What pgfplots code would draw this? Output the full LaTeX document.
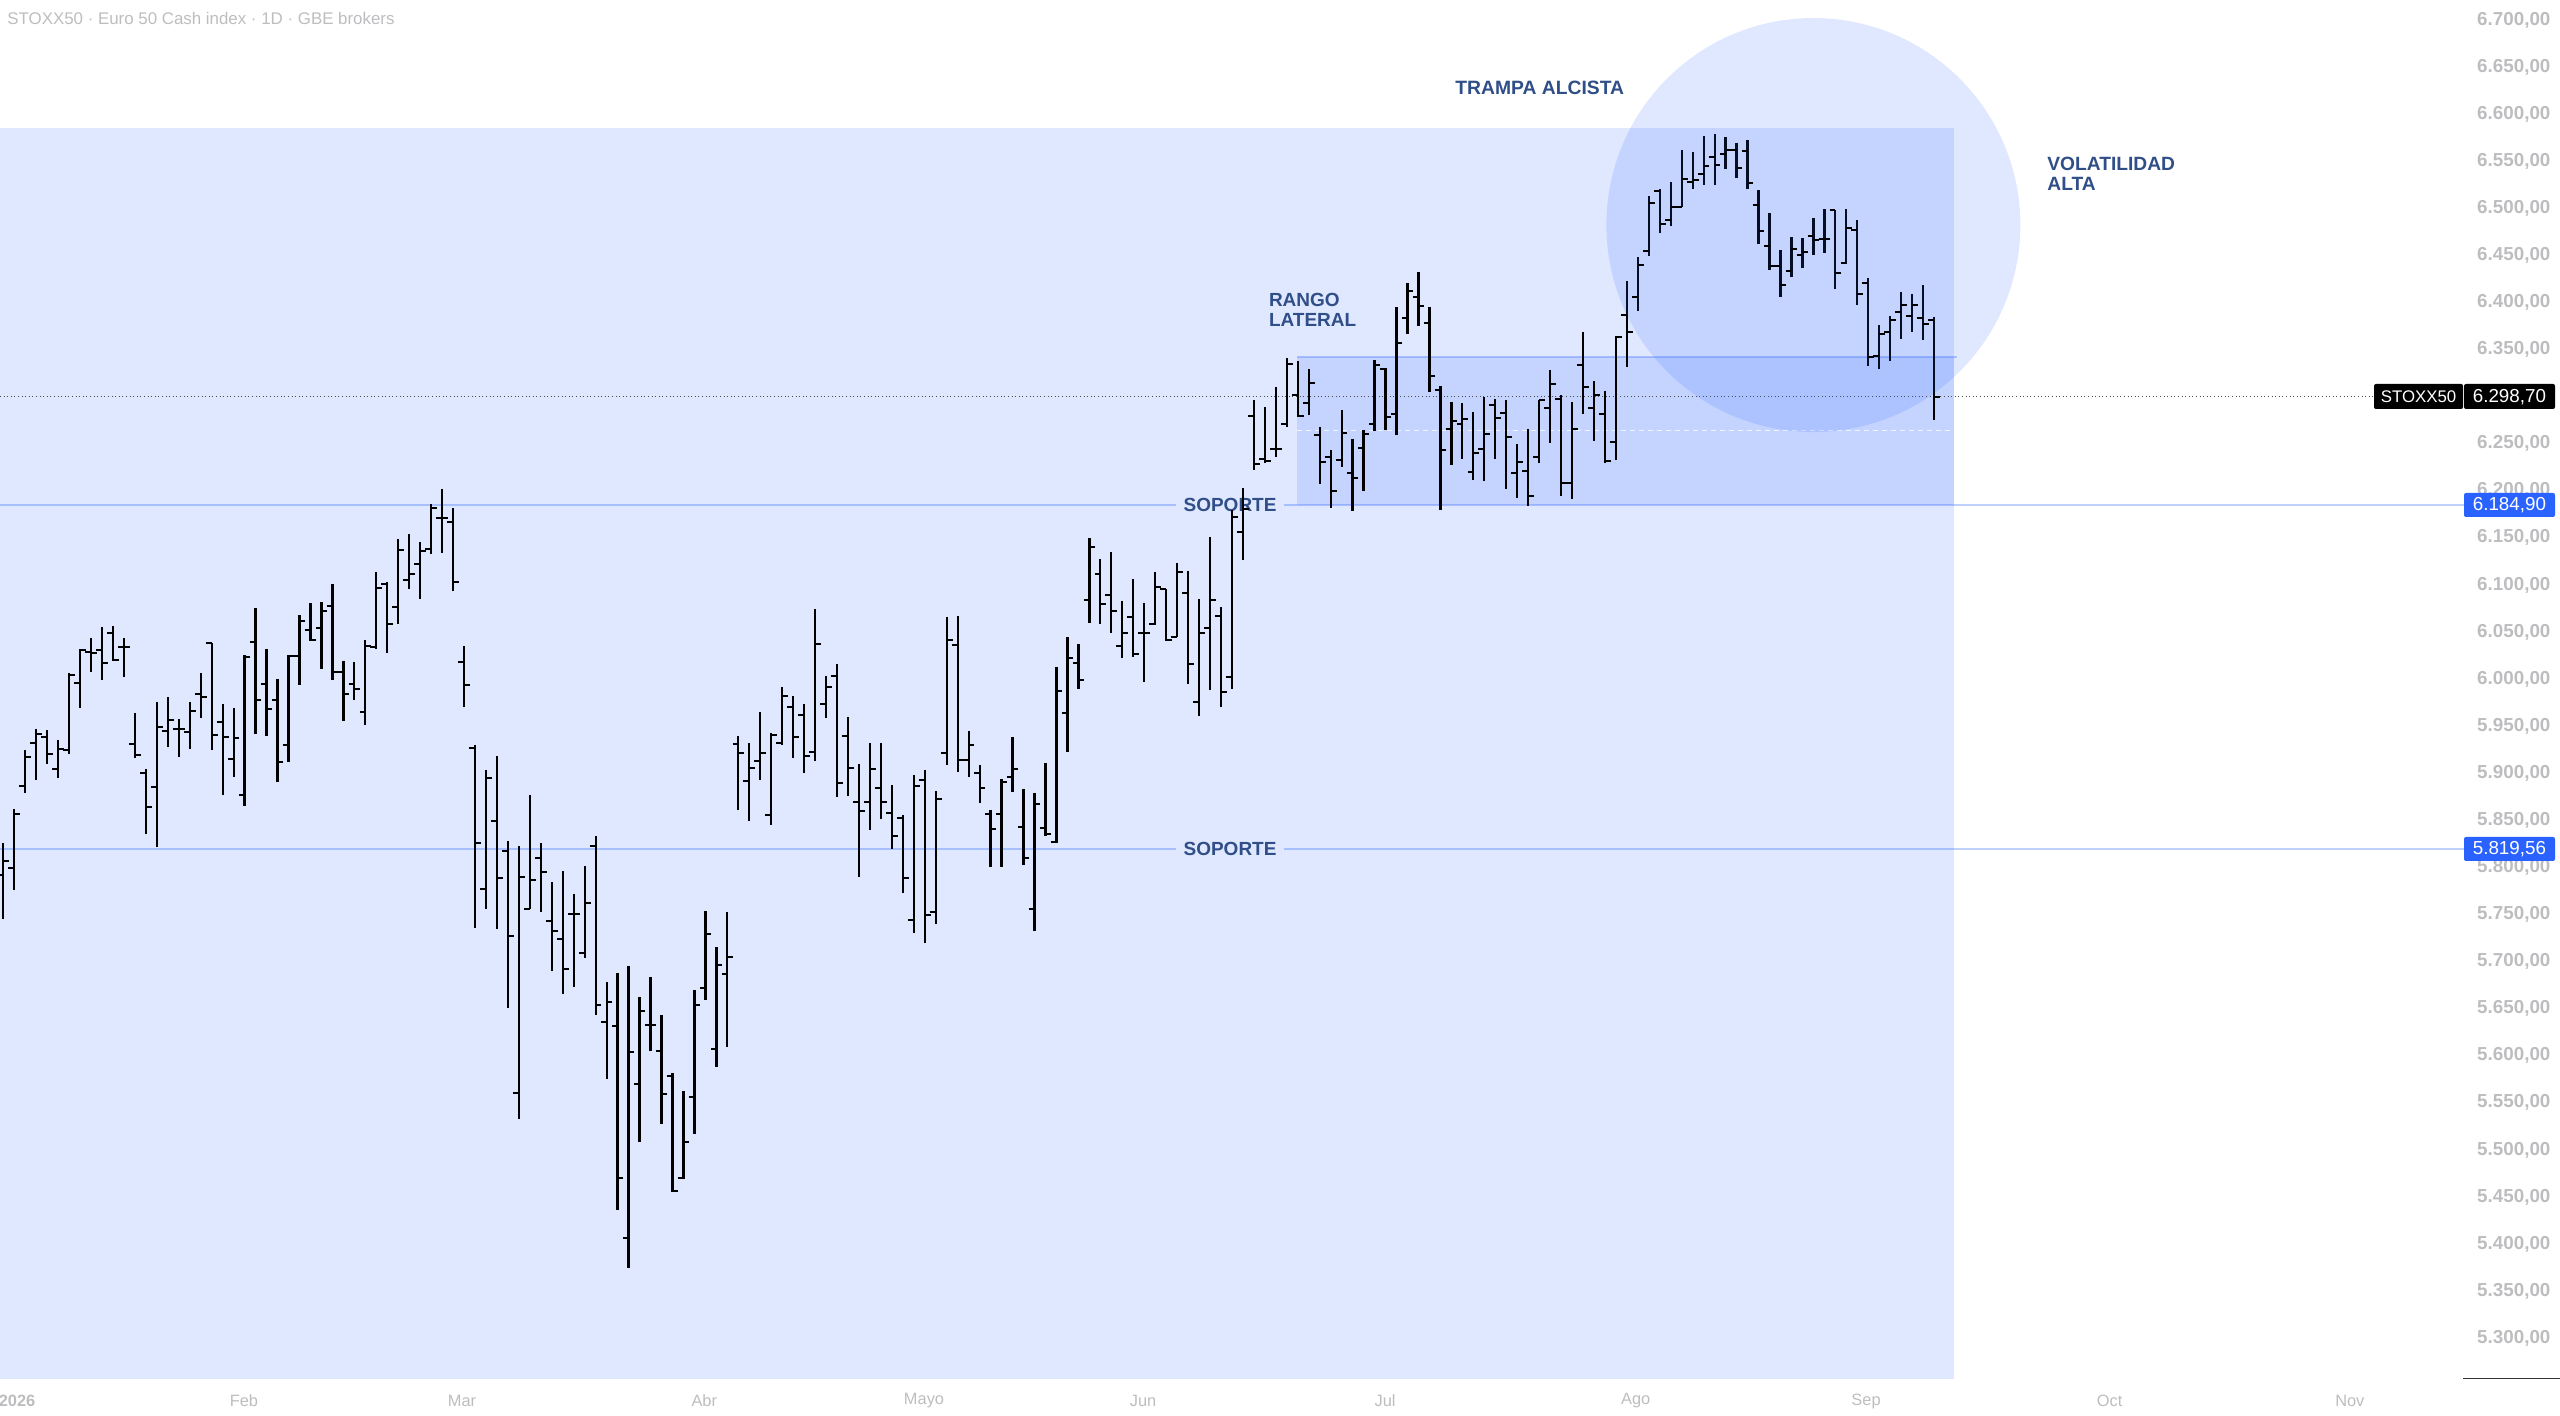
\documentclass[border=0pt]{standalone}
\usepackage{fontspec}
\setmainfont{Liberation Sans}
\usepackage{pgfplots}
\usepackage{pgfplotstable}
\pgfplotsset{compat=1.18}
\definecolor{myblue}{HTML}{2962FF}
\definecolor{annot}{HTML}{304E87}
\definecolor{axisgrey}{HTML}{BDBDC0}
\pgfdeclareplotmark{tickopen}{\pgfsetlinewidth{1pt}\pgfpathmoveto{\pgfqpoint{-2.9pt}{0pt}}\pgfpathlineto{\pgfqpoint{0pt}{0pt}}\pgfusepathqstroke}
\pgfdeclareplotmark{tickclose}{\pgfsetlinewidth{1pt}\pgfpathmoveto{\pgfqpoint{2.9pt}{0pt}}\pgfpathlineto{\pgfqpoint{0pt}{0pt}}\pgfusepathqstroke}
\pgfdeclareplotmark{disc}{\pgfpathcircle{\pgfpointorigin}{\pgfplotmarksize}\pgfusepathqfill}
\pgfplotstableread{
i o h l c
0 5792 5826 5745 5807
1 5799 5862 5776 5857
2 5886 5925 5879 5917
3 5932 5947 5893 5942
4 5938 5946 5910 5920
5 5905 5935 5895 5926
6 5925 6007 5920 6004
7 5996 6032 5969 6031
8 6029 6044 6007 6028
9 6031 6055 5999 6017
10 6049 6056 6019 6020
11 6034 6044 6002 6034
12 5931 5964 5916 5919
13 5900 5905 5836 5864
14 5885 5976 5822 5949
15 5945 5981 5928 5957
16 5947 5958 5917 5947
17 5944 5976 5926 5966
18 5984 6006 5959 5981
19 6038 6038 5925 5941
20 5954 5974 5877 5938
21 5915 5969 5896 5937
22 5877 6026 5865 6023
23 6039 6076 5942 5978
24 5995 6032 5940 5968
25 5978 6000 5891 5912
26 5930 6026 5912 6025
27 6025 6068 5994 6062
28 6052 6081 6040 6041
29 6054 6082 6011 6072
30 6078 6101 5999 6007
31 6007 6019 5955 5984
32 5995 6018 5978 5989
33 5965 6041 5951 6035
34 6034 6114 6032 6097
35 6101 6103 6028 6058
36 6077 6149 6059 6137
37 6105 6154 6096 6112
38 6122 6146 6085 6136
39 6138 6186 6133 6182
40 6171 6202 6134 6171
41 6167 6182 6094 6103
42 6018 6035 5970 5994
43 5927 5930 5736 5826
44 5777 5903 5756 5895
45 5849 5918 5735 5789
46 5817 5828 5651 5727
47 5560 5823 5533 5790
48 5756 5877 5756 5787
49 5810 5826 5753 5795
50 5743 5785 5690 5733
51 5724 5796 5666 5692
52 5750 5772 5673 5750
53 5709 5802 5704 5762
54 5823 5833 5643 5654
55 5636 5678 5575 5657
56 5632 5688 5436 5470
57 5406 5695 5375 5604
58 5570 5662 5508 5647
59 5633 5684 5605 5633
60 5605 5643 5528 5559
61 5578 5582 5455 5456
62 5470 5563 5469 5508
63 5556 5670 5517 5654
64 5672 5754 5659 5729
65 5607 5715 5588 5696
66 5687 5753 5609 5705
67 5931 5940 5861 5921
68 5892 5932 5849 5906
69 5913 5965 5893 5921
70 5856 5943 5845 5941
71 5932 5992 5930 5982
72 5970 5982 5916 5939
73 5962 5974 5900 5918
74 5923 6074 5913 6037
75 5974 6003 5959 5992
76 6003 6016 5875 5890
77 5940 5960 5876 5906
78 5869 5910 5790 5860
79 5869 5932 5840 5905
80 5884 5932 5851 5870
81 5858 5887 5820 5833
82 5852 5856 5773 5789
83 5744 5898 5730 5886
84 5893 5903 5720 5749
85 5753 5881 5740 5873
86 5921 6066 5909 6042
87 6036 6067 5901 5914
88 5914 5945 5896 5930
89 5900 5909 5868 5884
90 5857 5861 5800 5841
91 5857 5894 5800 5891
92 5896 5938 5880 5904
93 5843 5883 5803 5810
94 5756 5879 5732 5867
95 5842 5911 5833 5836
96 5827 6013 5826 5987
97 5964 6045 5923 6022
98 6017 6037 5990 5999
99 6084 6150 6060 6140
100 6112 6128 6058 6080
101 6089 6135 6049 6072
102 6035 6083 6022 6049
103 6066 6106 6023 6027
104 6049 6081 5997 6049
105 6058 6114 6057 6098
106 6096 6096 6040 6041
107 6045 6123 6045 6114
108 6091 6115 5995 6016
109 5976 6085 5961 6049
110 6054 6151 5988 6084
111 6067 6077 5970 5986
112 6002 6180 5989 6172
113 6156 6203 6126 6181
114 6279 6296 6222 6228
115 6234 6289 6229 6232
116 6244 6310 6236 6244
117 6271 6341 6268 6335
118 6302 6338 6278 6279
119 6293 6329 6280 6314
120 6259 6268 6207 6231
121 6236 6243 6182 6200
122 6233 6286 6225 6261
123 6219 6255 6179 6214
124 6245 6265 6200 6260
125 6271 6339 6263 6334
126 6329 6330 6265 6278
127 6281 6395 6259 6357
128 6383 6421 6367 6412
129 6406 6432 6375 6396
130 6378 6395 6305 6322
131 6307 6311 6180 6243
132 6266 6294 6227 6274
133 6271 6293 6234 6276
134 6220 6284 6211 6240
135 6244 6300 6210 6260
136 6291 6297 6234 6277
137 6283 6296 6202 6257
138 6219 6250 6192 6231
139 6221 6266 6184 6194
140 6236 6296 6230 6296
141 6288 6328 6251 6313
142 6297 6302 6194 6208
143 6208 6294 6191 6266
144 6334 6369 6281 6310
145 6288 6317 6253 6302
146 6282 6306 6230 6232
147 6252 6364 6233 6363
148 6387 6423 6331 6369
149 6406 6448 6391 6440
150 6455 6513 6449 6506
151 6518 6521 6474 6483
152 6488 6528 6481 6501
153 6501 6562 6501 6531
154 6528 6560 6520 6530
155 6536 6577 6525 6545
156 6554 6579 6525 6546
157 6558 6576 6542 6562
158 6562 6569 6532 6543
159 6561 6572 6521 6527
160 6504 6519 6462 6476
161 6460 6495 6434 6439
162 6439 6456 6406 6419
163 6433 6469 6427 6457
164 6450 6468 6437 6454
165 6471 6490 6450 6466
166 6467 6499 6453 6467
167 6498 6498 6414 6431
168 6442 6499 6441 6479
169 6477 6488 6397 6409
170 6421 6426 6333 6342
171 6343 6376 6329 6367
172 6369 6386 6338 6381
173 6390 6411 6361 6397
174 6386 6409 6369 6397
175 6384 6418 6360 6377
176 6381 6385 6275 6300
}\ohlc
\begin{document}
\begin{tikzpicture}[x=1pt,y=1pt]
\path[use as bounding box] (0,0) rectangle (1280,707.5);
\begin{axis}[
  at={(0pt,17.5pt)}, anchor=south west,
  scale only axis, width=1232pt, height=690pt,
  xmin=-0.3008, xmax=224.31, ymin=5255.64, ymax=6721.2,
  axis line style={draw=none},
  major tick length=0pt,
  tick style={draw=none},
  yticklabel pos=right,
  ytick={5300,5350,...,6700},
  yticklabels={{5.300,00},{5.350,00},{5.400,00},{5.450,00},{5.500,00},{5.550,00},{5.600,00},{5.650,00},{5.700,00},{5.750,00},{5.800,00},{5.850,00},{5.900,00},{5.950,00},{6.000,00},{6.050,00},{6.100,00},{6.150,00},{6.200,00},{6.250,00},{6.300,00},{6.350,00},{6.400,00},{6.450,00},{6.500,00},{6.550,00},{6.600,00},{6.650,00},{6.700,00}},
  y tick label style={font=\fontsize{9.4}{11}\selectfont\bfseries, text=axisgrey, inner sep=0pt, anchor=west, xshift=6.4pt, yshift=0pt},
  xtick={1.25,21.94,41.81,63.9,83.93,103.9,125.96,148.8,169.8,192,213.9},
  xticklabels={\textbf{2026},Feb,Mar,Abr,Mayo,Jun,Jul,Ago,Sep,Oct,Nov},
  x tick label style={font=\fontsize{8.2}{10}\selectfont, text=axisgrey, inner sep=0pt, anchor=center, yshift=-10.5pt},
]
% shaded areas
\addplot[draw=none, fill=myblue, fill opacity=0.15, forget plot] coordinates {(-0.3008,5256.7)(177.83,5256.7)(177.83,6585.3)(-0.3008,6585.3)} --cycle;
\addplot[draw=none, fill=myblue, fill opacity=0.15, forget plot] coordinates {(117.93,6184.9)(177.83,6184.9)(177.83,6342)(117.93,6342)} --cycle;
\addplot[only marks, mark=disc, mark size=103.5pt, mark options={fill=myblue, fill opacity=0.15}, forget plot] coordinates {(165,6482.2)};
% horizontal levels
\addplot[myblue, opacity=0.3, line width=1.35pt, forget plot] coordinates {(117.93,6342)(178.1,6342)};
\addplot[myblue, opacity=0.3, line width=1.35pt, forget plot] coordinates {(-0.3008,6184.9)(106.9,6184.9)};
\addplot[myblue, opacity=0.3, line width=1.35pt, forget plot] coordinates {(116.75,6184.9)(224.31,6184.9)};
\addplot[myblue, opacity=0.3, line width=1.35pt, forget plot] coordinates {(-0.3008,5819.56)(106.9,5819.56)};
\addplot[myblue, opacity=0.3, line width=1.35pt, forget plot] coordinates {(116.75,5819.56)(224.31,5819.56)};
\addplot[white, opacity=0.75, line width=0.5pt, dash pattern=on 2.5pt off 2pt, forget plot] coordinates {(117.93,6263.5)(177.6,6263.5)};
\addplot[black!70, line width=0.45pt, dash pattern=on 0.5pt off 1.3pt, forget plot] coordinates {(-0.3008,6300)(216.1,6300)};
% level labels (under the bars)
\addplot[draw=none, forget plot] coordinates {(106.9,6184.9)(116.75,6184.9)} node[pos=0.5, text=annot, font=\fontsize{9.5}{11}\selectfont\bfseries, inner sep=0pt] {SOPORTE};
\addplot[draw=none, forget plot] coordinates {(106.9,5819.56)(116.75,5819.56)} node[pos=0.5, text=annot, font=\fontsize{9.5}{11}\selectfont\bfseries, inner sep=0pt] {SOPORTE};
% OHLC bars
\addplot[draw=none, mark=none, forget plot, error bars/.cd, y dir=both, y explicit, error mark=none, error bar style={line width=1.15pt, black}]
  table[x=i, y=c, y error plus expr=\thisrow{h}-\thisrow{c}, y error minus expr=\thisrow{c}-\thisrow{l}] {\ohlc};
\addplot[black, only marks, mark=tickopen, forget plot] table[x=i, y=o] {\ohlc};
\addplot[black, only marks, mark=tickclose, forget plot] table[x=i, y=c] {\ohlc};
\end{axis}
% text annotations
\node[anchor=west, inner sep=0pt, text=axisgrey, font=\fontsize{8.44}{11}\selectfont] at (3.5,698.5) {STOXX50 · Euro 50 Cash index · 1D · GBE brokers};
\node[anchor=west, inner sep=0pt, text=annot, font=\fontsize{9.65}{11}\selectfont\bfseries] at (727.5,663.8) {TRAMPA ALCISTA};
\node[anchor=west, inner sep=0pt, text=annot, font=\fontsize{9.5}{10}\selectfont\bfseries, align=left] at (634.3,552.8) {RANGO\\LATERAL};
\node[anchor=west, inner sep=0pt, text=annot, font=\fontsize{9.6}{10}\selectfont\bfseries, align=left] at (1023.5,620.5) {VOLATILIDAD\\ALTA};
% price tags
\fill[black, rounded corners=1pt] (1187,503) rectangle (1231.5,515.5);
\fill[black, rounded corners=1pt] (1232,503) rectangle (1277.5,515.5);
\node[text=white, inner sep=0pt, font=\fontsize{8.4}{10}\selectfont] at (1209.3,509) {STOXX50};
\node[text=white, inner sep=0pt, font=\fontsize{9.4}{10}\selectfont] at (1254.7,509) {6.298,70};
\fill[myblue, rounded corners=1pt] (1232,449) rectangle (1277.5,461);
\node[text=white, inner sep=0pt, font=\fontsize{9.4}{10}\selectfont] at (1254.7,455) {6.184,90};
\fill[myblue, rounded corners=1pt] (1232,277) rectangle (1277.5,289);
\node[text=white, inner sep=0pt, font=\fontsize{9.4}{10}\selectfont] at (1254.7,283) {5.819,56};
\draw[black!80, line width=0.5pt] (1231.5,18.2) -- (1280,18.2);
\end{tikzpicture}
\end{document}
